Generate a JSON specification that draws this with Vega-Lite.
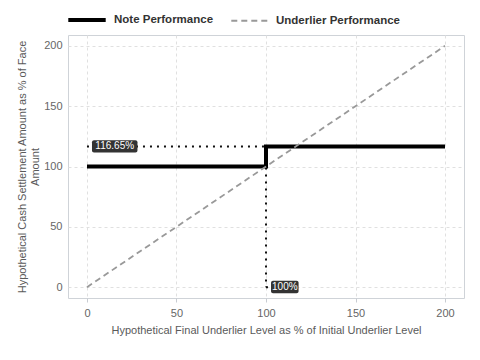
{
  "$schema": "https://vega.github.io/schema/vega-lite/v6.json",
  "width": 396,
  "height": 263,
  "autosize": {"type": "none"},
  "padding": {"left": 68, "top": 35, "right": 16, "bottom": 62},
  "background": "white",
  "config": {
    "font": "Liberation Sans",
    "view": {"stroke": "#cfd3d8", "strokeWidth": 1},
    "axis": {
      "gridColor": "#e0e0e0",
      "gridDash": [3, 3],
      "gridWidth": 1,
      "domain": false,
      "labelColor": "#666666",
      "labelFontSize": 11,
      "titleColor": "#5a5a5a",
      "titleFontSize": 11,
      "titleFontWeight": "normal",
      "tickColor": "#c8ccd2"
    }
  },
  "datasets": {
    "lines": [
      {"x": 0, "y": 100, "series": "Note Performance", "ord": 1},
      {"x": 100, "y": 100, "series": "Note Performance", "ord": 2},
      {"x": 100, "y": 116.65, "series": "Note Performance", "ord": 3},
      {"x": 200, "y": 116.65, "series": "Note Performance", "ord": 4},
      {"x": 0, "y": 0, "series": "Underlier Performance", "ord": 1},
      {"x": 200, "y": 200, "series": "Underlier Performance", "ord": 2}
    ],
    "guides": [
      {"x": 0, "y": 116.65, "g": "h", "ord": 1},
      {"x": 100, "y": 116.65, "g": "h", "ord": 2},
      {"x": 100, "y": 116.65, "g": "v", "ord": 1},
      {"x": 100, "y": 0, "g": "v", "ord": 2},
      {"x": 100, "y": 0, "g": "c", "ord": 1},
      {"x": 103, "y": 0, "g": "c", "ord": 2}
    ],
    "labels": [
      {"label": "116.65%", "x1": 2.8, "x2": 28.2, "y1": 111.6, "y2": 121.8, "xm": 15.5, "ym": 116.65},
      {"label": "100%", "x1": 102.8, "x2": 118.2, "y1": -5.0, "y2": 5.2, "xm": 110.5, "ym": 0}
    ]
  },
  "layer": [
    {
      "data": {"name": "guides"},
      "mark": {"type": "line", "stroke": "#111111", "strokeWidth": 2, "strokeDash": [2, 5]},
      "encoding": {
        "x": {"field": "x", "type": "quantitative", "scale": {"domain": [-10.6, 210.6], "nice": false, "zero": false},
          "axis": {"values": [0, 50, 100, 150, 200], "title": "Hypothetical Final Underlier Level as % of Initial Underlier Level", "tickSize": 4, "labelPadding": 5, "titlePadding": 6}},
        "y": {"field": "y", "type": "quantitative", "scale": {"domain": [-9, 209], "nice": false, "zero": false},
          "axis": {"values": [0, 50, 100, 150, 200], "title": ["Hypothetical Cash Settlement Amount as % of Face", "Amount"], "ticks": false, "labelPadding": 6, "titlePadding": 3}},
        "detail": {"field": "g"},
        "order": {"field": "ord"}
      }
    },
    {
      "data": {"name": "lines"},
      "mark": {"type": "line"},
      "encoding": {
        "x": {"field": "x", "type": "quantitative"},
        "y": {"field": "y", "type": "quantitative"},
        "order": {"field": "ord"},
        "color": {"field": "series", "type": "nominal",
          "scale": {"domain": ["Note Performance", "Underlier Performance"], "range": ["#000000", "#999999"]},
          "legend": {"title": null, "orient": "none", "legendX": -2, "legendY": -36, "direction": "horizontal",
            "symbolType": "stroke", "symbolSize": 1400, "labelFontSize": 11.5, "labelFontWeight": "bold", "labelColor": "#333333",
            "columnPadding": 13, "labelOffset": 6}},
        "strokeDash": {"field": "series", "type": "nominal",
          "scale": {"domain": ["Note Performance", "Underlier Performance"], "range": [[1, 0], [6, 4]]}},
        "strokeWidth": {"field": "series", "type": "nominal",
          "scale": {"domain": ["Note Performance", "Underlier Performance"], "range": [4, 1.8]}}
      }
    },
    {
      "data": {"name": "labels"},
      "mark": {"type": "rect", "fill": "#333333", "cornerRadius": 2},
      "encoding": {
        "x": {"field": "x1", "type": "quantitative"},
        "x2": {"field": "x2"},
        "y": {"field": "y1", "type": "quantitative"},
        "y2": {"field": "y2"}
      }
    },
    {
      "data": {"name": "labels"},
      "mark": {"type": "text", "color": "white", "fontSize": 10, "baseline": "middle", "align": "center"},
      "encoding": {
        "x": {"field": "xm", "type": "quantitative"},
        "y": {"field": "ym", "type": "quantitative"},
        "text": {"field": "label"}
      }
    }
  ]
}
